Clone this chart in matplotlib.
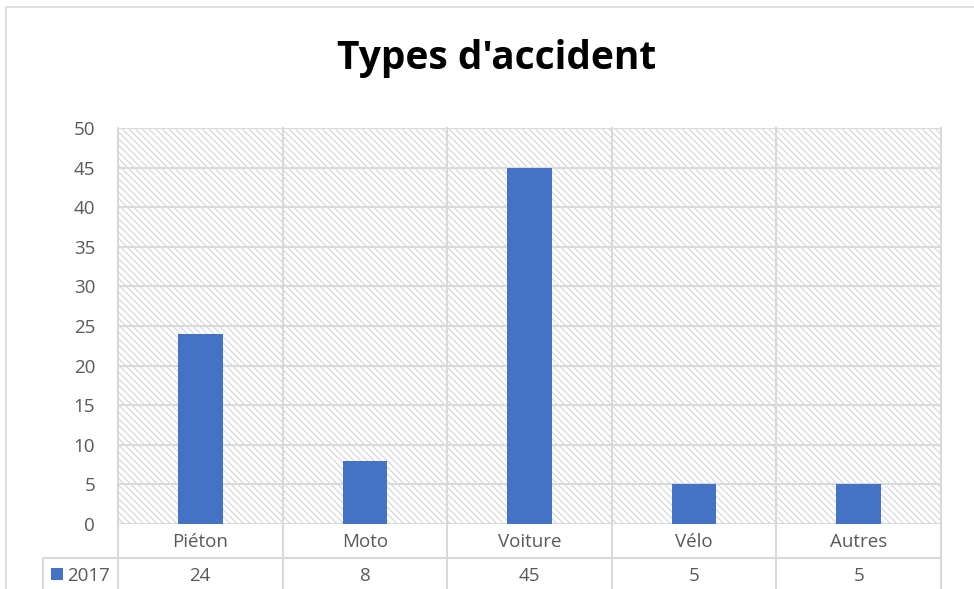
import matplotlib
matplotlib.use("Agg")
import matplotlib.pyplot as plt
from matplotlib.patches import Rectangle
from matplotlib.lines import Line2D
import matplotlib.transforms as mtransforms

categories = ["Piéton", "Moto", "Voiture", "Vélo", "Autres"]
values = [24, 8, 45, 5, 5]
series_name = "2017"
yticks = list(range(0, 51, 5))

W, H = 974, 589
fig = plt.figure(figsize=(W / 100, H / 100), dpi=100)
plt.rcParams['hatch.linewidth'] = 0.8

grid_c = "#D9D9D9"
hatch_c = "#D4D4D4"
text_c = "#595959"
bar_c = "#4472C4"

def fx(px):
    return px / W

def fy(py):
    return 1 - py / H

# outer chart border
fig.add_artist(Rectangle((fx(6), fy(700)), fx(1200), fy(7) - fy(700),
                         transform=fig.transFigure, fill=False,
                         edgecolor=grid_c, lw=1.2))

left, right, top, bottom = 118, 941, 128, 524
ax = fig.add_axes([fx(left), fy(bottom), fx(right - left), fy(top) - fy(bottom)])
ax.set_xlim(-0.5, len(categories) - 0.5)
ax.set_ylim(0, 50)

# hatched background
ax.add_patch(Rectangle((0, 0), 1, 1, transform=ax.transAxes, facecolor="white",
                       hatch="\\" * 5, edgecolor=hatch_c, lw=0, zorder=0))

for y in yticks:
    ax.axhline(y, color=grid_c, lw=1.5, zorder=1)

ax.bar(range(len(categories)), values, width=0.27, color=bar_c, zorder=3)

ax.set_yticks(yticks)
ax.set_yticklabels([str(t) for t in yticks], fontsize=13.5, color=text_c,
                   family="Open Sans")
ax.tick_params(axis='y', length=0, pad=16.5)
ax.set_xticks([])
for s in ax.spines.values():
    s.set_visible(False)

# table lines
xb = [left + i * (right - left) / len(categories) for i in range(len(categories) + 1)]
for x in xb:
    fig.add_artist(Line2D([fx(x), fx(x)], [fy(top), fy(600)], transform=fig.transFigure,
                          color=grid_c, lw=1.5, zorder=2))
fig.add_artist(Line2D([fx(43), fx(right)], [fy(558), fy(558)], transform=fig.transFigure,
                      color=grid_c, lw=1.5))
fig.add_artist(Line2D([fx(43), fx(43)], [fy(558), fy(600)], transform=fig.transFigure,
                      color=grid_c, lw=1.5))

trans = mtransforms.blended_transform_factory(ax.transData, fig.transFigure)
for i, (c, v) in enumerate(zip(categories, values)):
    ax.text(i, fy(542), c, transform=trans, ha="center", va="center",
            fontsize=13.5, color=text_c, family="Open Sans", clip_on=False)
    ax.text(i, fy(576), str(v), transform=trans, ha="center", va="center",
            fontsize=13.5, color=text_c, family="Open Sans", clip_on=False)

# legend key in table
fig.add_artist(Rectangle((fx(51), fy(580)), fx(12), fy(568) - fy(580),
                         transform=fig.transFigure, facecolor=bar_c, lw=0))
fig.text(fx(67), fy(576), series_name, ha="left", va="center", fontsize=13.5,
         color=text_c, family="Open Sans")

fig.text(fx(497), fy(59), "Types d'accident", ha="center", va="center",
         fontsize=28, fontweight="bold", color="black", family="Open Sans")

fig.savefig("out.png", dpi=100)
